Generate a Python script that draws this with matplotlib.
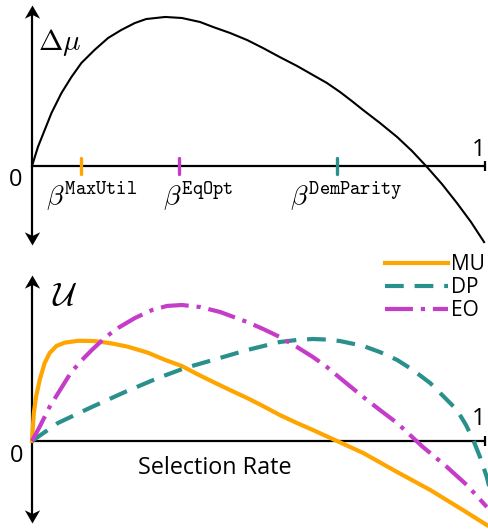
import numpy as np
import matplotlib
matplotlib.use('Agg')
import matplotlib.pyplot as plt
from matplotlib.path import Path

plt.rcParams['mathtext.fontset'] = 'cm'
plt.rcParams['font.family'] = ['Open Sans', 'DejaVu Sans']

# top panel: change in mean score vs selection rate
dmu_x = [0, 0.013, 0.028, 0.043, 0.065, 0.087, 0.109, 0.138, 0.168, 0.197, 0.227,
         0.252, 0.294, 0.331, 0.371, 0.400, 0.437, 0.475, 0.510, 0.547, 0.585,
         0.620, 0.651, 0.680, 0.706, 0.731, 0.768, 0.806, 0.839, 0.872, 0.905,
         0.938, 0.969, 0.998]
dmu_y = [0, 0.128, 0.243, 0.358, 0.493, 0.601, 0.696, 0.784, 0.865, 0.919, 0.966,
         0.993, 1.007, 1.0, 0.973, 0.939, 0.899, 0.851, 0.797, 0.736, 0.676,
         0.615, 0.561, 0.50, 0.439, 0.378, 0.291, 0.196, 0.101, -0.007, -0.122,
         -0.25, -0.378, -0.514]

# threshold markers on the top axis
beta_names = ['MaxUtil', 'EqOpt', 'DemParity']
beta_x = [0.108, 0.325, 0.673]
beta_label_x = [0.031, 0.289, 0.570]

# bottom panel: utility curves
mu_x = [0, 0.002, 0.004, 0.009, 0.017, 0.028, 0.039, 0.054, 0.072, 0.102, 0.138,
        0.175, 0.212, 0.256, 0.294, 0.331, 0.364, 0.400, 0.437, 0.475, 0.510,
        0.547, 0.585, 0.620, 0.678, 0.731, 0.806, 0.879, 0.951, 1.004]
mu_y = [0, 0.105, 0.206, 0.326, 0.449, 0.574, 0.647, 0.699, 0.723, 0.737, 0.735,
        0.718, 0.693, 0.649, 0.596, 0.551, 0.493, 0.434, 0.375, 0.316, 0.257,
        0.191, 0.132, 0.081, -0.007, -0.088, -0.228, -0.360, -0.507, -0.618]

dp_x = [0, 0.057, 0.132, 0.205, 0.278, 0.338, 0.400, 0.475, 0.547, 0.585, 0.620,
        0.651, 0.680, 0.731, 0.768, 0.806, 0.841, 0.879, 0.912, 0.938, 0.958,
        0.974, 0.989, 1.004, 1.011]
dp_y = [0, 0.132, 0.25, 0.36, 0.463, 0.537, 0.596, 0.669, 0.728, 0.743, 0.75,
        0.746, 0.735, 0.699, 0.654, 0.596, 0.522, 0.426, 0.316, 0.228, 0.118,
        0.007, -0.118, -0.265, -0.36]

eo_x = [0, 0.017, 0.039, 0.062, 0.084, 0.106, 0.132, 0.163, 0.190, 0.227, 0.265,
        0.298, 0.331, 0.371, 0.415, 0.475, 0.510, 0.547, 0.585, 0.620, 0.651,
        0.680, 0.731, 0.768, 0.806, 0.863, 0.916, 0.960, 1.004]
eo_y = [0, 0.105, 0.252, 0.375, 0.493, 0.581, 0.669, 0.765, 0.831, 0.904, 0.963,
        0.993, 1.0, 0.985, 0.949, 0.875, 0.824, 0.765, 0.691, 0.618, 0.544,
        0.463, 0.324, 0.228, 0.132, -0.044, -0.191, -0.324, -0.485]

c_mu = '#FFA500'
c_dp = '#2A908C'
c_eo = '#C43CC8'

W, H = 488, 529
fig = plt.figure(figsize=(W / 100, H / 100), dpi=100)

# axes laid out in pixels: x=0 at px 32, x=1 at px 485
xl = (-32 / 453, 456 / 453)
ax1 = fig.add_axes([0, (H - 255) / H, 1, 255 / H])
ax1.set_xlim(*xl)
ax1.set_ylim((166 - 255) / 148, 166 / 148)
ax2 = fig.add_axes([0, 0, 1, 274 / H])
ax2.set_xlim(*xl)
ax2.set_ylim((441 - 529) / 136, (441 - 255) / 136)
for ax in (ax1, ax2):
    ax.axis('off')

up_head = Path([(0, 0), (0.58, -1), (0, -0.72), (-0.58, -1), (0, 0)],
               [Path.MOVETO, Path.LINETO, Path.LINETO, Path.LINETO, Path.CLOSEPOLY])
down_head = Path([(0, 0), (0.58, 1), (0, 0.72), (-0.58, 1), (0, 0)],
                 [Path.MOVETO, Path.LINETO, Path.LINETO, Path.LINETO, Path.CLOSEPOLY])


def draw_axes(ax, ytop, ybot):
    ax.plot([0, 0], [ytop - 0.05, ybot + 0.05], color='black', lw=1.6, solid_capstyle='butt')
    ax.plot([0], [ytop], marker=up_head, markersize=19, color='black', mew=0)
    ax.plot([0], [ybot], marker=down_head, markersize=19, color='black', mew=0)
    ax.plot([0, 1], [0, 0], color='black', lw=1.6, solid_capstyle='butt')
    ax.plot([1], [0], marker='|', markersize=7, mew=1.6, color='black')


draw_axes(ax1, 1.088, -0.534)
draw_axes(ax2, 1.22, -0.603)

# top panel
ax1.plot(dmu_x, dmu_y, color='black', lw=1.5)
for bx, lx, name, col in zip(beta_x, beta_label_x, beta_names, [c_mu, c_eo, c_dp]):
    ax1.plot([bx, bx], [0.055, -0.055], color=col, lw=2.4, solid_capstyle='round')
    ax1.text(lx, -0.264, r'$\beta^{\mathtt{' + name + '}}$', fontsize=20,
             ha='left', va='baseline')
ax1.text(0.013, 0.784, r'$\Delta\mu$', fontsize=21, ha='left', va='baseline')
ax1.text(-0.037, -0.095, '0', fontsize=17, ha='center', va='center')
ax1.text(0.986, 0.108, '1', fontsize=17, ha='center', va='center')

# bottom panel
ax2.plot(mu_x, mu_y, color=c_mu, lw=3, label='MU')
ax2.plot(dp_x, dp_y, color=c_dp, lw=3, dashes=(4.5, 2.6), label='DP')
ax2.plot(eo_x, eo_y, color=c_eo, lw=3, dashes=(6.7, 1.9, 1.0, 1.9), label='EO')
ax2.text(0.044, 1.0, r'$\mathcal{U}$', fontsize=24, ha='left', va='baseline')
ax2.text(-0.033, -0.11, '0', fontsize=17, ha='center', va='center')
ax2.text(0.986, 0.16, '1', fontsize=17, ha='center', va='center')
ax2.text(0.404, -0.2, 'Selection Rate', fontsize=16.8, ha='center', va='center')
ax2.legend(loc='upper left', bbox_to_anchor=(385 / W, 1 + 1 / 274), frameon=False,
           fontsize=15, handlelength=3.0, handletextpad=0.15, labelspacing=0.1,
           borderpad=0, borderaxespad=0)

fig.savefig('out.png', dpi=100)
